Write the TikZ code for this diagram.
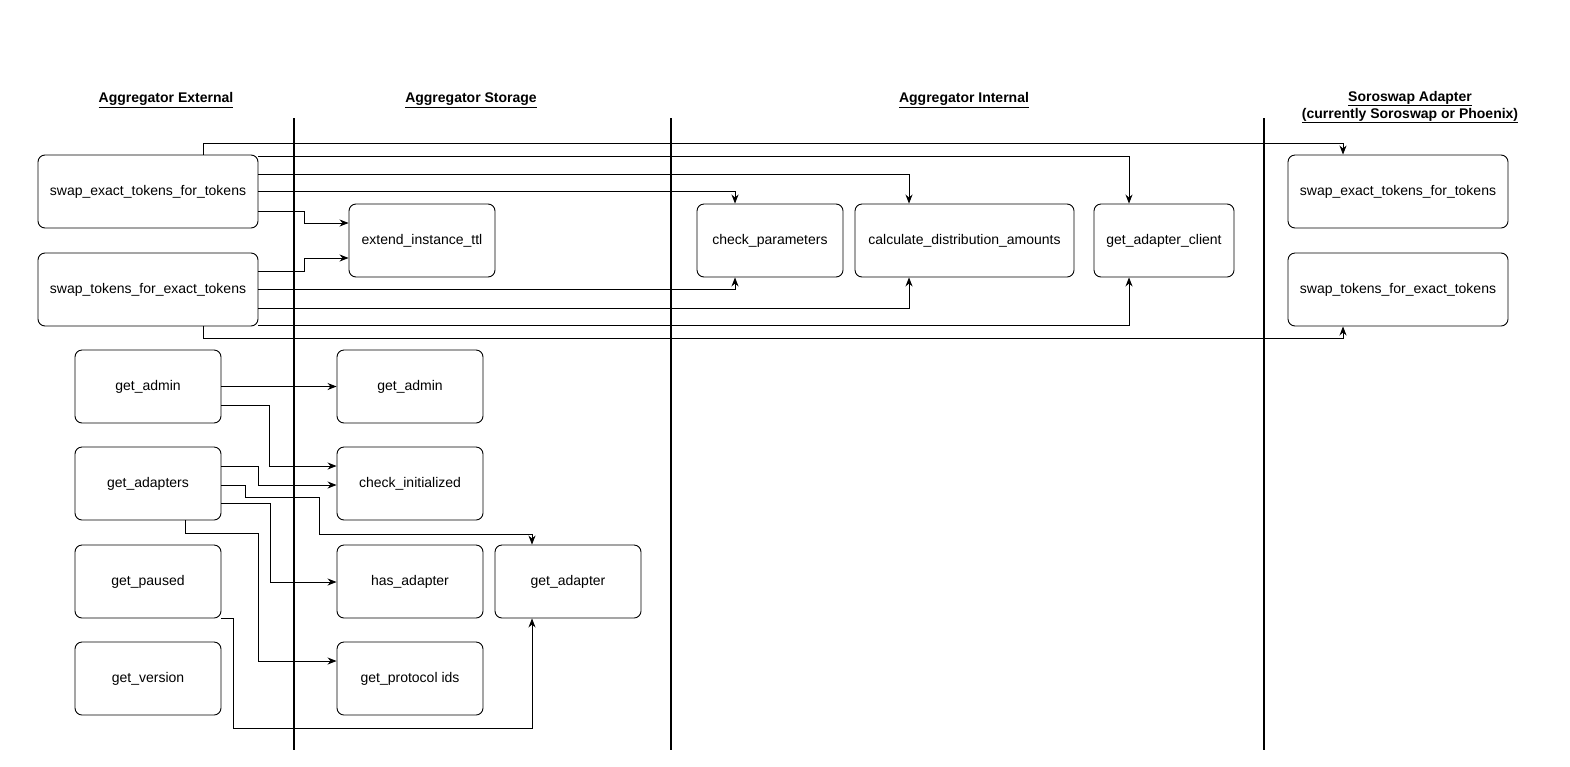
\documentclass[tikz,border=0pt]{standalone}
\usepackage{fontspec}
\setmainfont{Liberation Sans}
\usetikzlibrary{arrows.meta}
\begin{document}
\begin{tikzpicture}[x=1pt,y=-1pt,
  box/.style={draw,rounded corners=7pt,line width=0.9pt,inner sep=0pt,font=\fontsize{14}{16}\selectfont},
  hdr/.style={font=\fontsize{14}{17}\selectfont\bfseries,align=center},
  arr/.style={-{Stealth[length=9pt,width=7pt]},line width=0.9pt},
  lane/.style={line width=1.8pt}]
\useasboundingbox (0,0) rectangle (1570,766);
\newcommand{\bx}[6]{\node[box,minimum width=#4,minimum height=#5] (#1) at (#2,#3) {#6};}
\bx{seE}{148}{191.5}{220pt}{73pt}{swap\_exact\_tokens\_for\_tokens}
\bx{stE}{148}{289.5}{220pt}{73pt}{swap\_tokens\_for\_exact\_tokens}
\bx{ext}{422}{240.5}{146pt}{73pt}{extend\_instance\_ttl}
\bx{chk}{770}{240.5}{146pt}{73pt}{check\_parameters}
\bx{calc}{964.5}{240.5}{219pt}{73pt}{calculate\_distribution\_amounts}
\bx{gac}{1164}{240.5}{140pt}{73pt}{get\_adapter\_client}
\bx{seS}{1398}{191.5}{220pt}{73pt}{swap\_exact\_tokens\_for\_tokens}
\bx{stS}{1398}{289.5}{220pt}{73pt}{swap\_tokens\_for\_exact\_tokens}
\bx{gadm}{148}{386.5}{146pt}{73pt}{get\_admin}
\bx{gads}{148}{483.5}{146pt}{73pt}{get\_adapters}
\bx{gp}{148}{581.5}{146pt}{73pt}{get\_paused}
\bx{gv}{148}{678.5}{146pt}{73pt}{get\_version}
\bx{sadm}{410}{386.5}{146pt}{73pt}{get\_admin}
\bx{ci}{410}{483.5}{146pt}{73pt}{check\_initialized}
\bx{ha}{410}{581.5}{146pt}{73pt}{has\_adapter}
\bx{gpi}{410}{678.5}{146pt}{73pt}{get\_protocol ids}
\bx{ga}{568}{581.5}{146pt}{73pt}{get\_adapter}
\draw[lane] (294,118) -- (294,750);
\draw[lane] (671,118) -- (671,750);
\draw[lane] (1264,118) -- (1264,750);
\node[hdr] (h1) at (166,100) {\underline{Aggregator External}};
\node[hdr] (h2) at (471,100) {\underline{Aggregator Storage}};
\node[hdr] (h3) at (964,100) {\underline{Aggregator Internal}};
\node[hdr] (h4) at (1410,107) {\underline{Soroswap Adapter}\\\underline{(currently Soroswap or Phoenix)}};
% swaps
\draw[arr] (seE.north -| 203,0) -- (203,143) -- (1343,143) -- (seS.north -| 1343,0);
\draw[arr] (258,156) -- (1129,156) -- (gac.north -| 1129,0);
\draw[arr] (258,174) -- (909,174) -- (calc.north -| 909,0);
\draw[arr] (seE.east) -- (735,191.5) -- (chk.north -| 735,0);
\draw[arr] (258,211) -- (304,211) -- (304,223) -- (ext.west |- 0,223);
\draw[arr] (258,271) -- (304,271) -- (304,258) -- (ext.west |- 0,258);
\draw[arr] (stE.east) -- (735,289.5) -- (chk.south -| 735,0);
\draw[arr] (258,308) -- (909,308) -- (calc.south -| 909,0);
\draw[arr] (258,325) -- (1129,325) -- (gac.south -| 1129,0);
\draw[arr] (stE.south -| 203,0) -- (203,338) -- (1343,338) -- (stS.south -| 1343,0);
% storage
\draw[arr] (gadm.east) -- (sadm.west);
\draw[arr] (221,405) -- (269,405) -- (269,466) -- (ci.west |- 0,466);
\draw[arr] (221,466) -- (258,466) -- (258,485) -- (ci.west |- 0,485);
\draw[arr] (221,485) -- (245,485) -- (245,497) -- (319,497) -- (319,534) -- (532,534) -- (ga.north -| 532,0);
\draw[arr] (221,503) -- (270,503) -- (270,582) -- (ha.west |- 0,582);
\draw[arr] (gads.south -| 185,0) -- (185,533) -- (258,533) -- (258,661) -- (gpi.west |- 0,661);
\draw[arr] (221,618) -- (233,618) -- (233,728) -- (532,728) -- (ga.south -| 532,0);
\end{tikzpicture}
\end{document}
